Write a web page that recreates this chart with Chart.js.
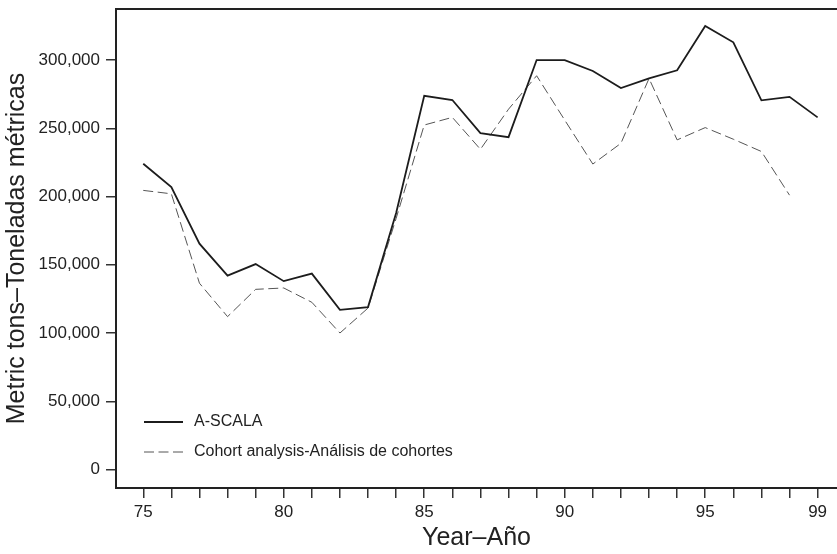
<!DOCTYPE html>
<html>
<head>
<meta charset="utf-8">
<script src="https://cdn.jsdelivr.net/npm/chart.js@4/dist/chart.umd.min.js"></script>
<style>
    html, body { margin: 0; padding: 0; background: #fff; }
    #wrap { width: 837px; height: 554px; position: relative; }
</style>
</head>
<body>
<div id="wrap"><canvas id="chart"></canvas></div>
<script>
// Chart data
const years = [75, 76, 77, 78, 79, 80, 81, 82, 83, 84, 85, 86, 87, 88, 89, 90, 91, 92, 93, 94, 95, 96, 97, 98, 99];
const aScala = [224000, 207000, 165500, 142000, 150500, 138000, 143500, 117000, 119000, 188000, 273800, 270700,
    246500, 243500, 300000, 300000, 292000, 279500, 286500, 292500, 325000, 313000, 270500, 273000, 258000];
const cohort = [204500, 202000, 136500, 112000, 132000, 133000, 122500, 100000, 118300, 184000, 252400, 258000,
    234600, 264000, 288500, 256000, 223800, 239000, 286500, 241500, 250500, 242000, 233000, 201000];
const xTickLabels = [75, 80, 85, 90, 95, 99];
const yTicks = [0, 50000, 100000, 150000, 200000, 250000, 300000];
const seriesNames = ['A-SCALA', 'Cohort analysis-Análisis de cohortes'];

const toPoints = (vals) => vals.map((v, i) => ({ x: years[i], y: v }));

const FONT = "'Liberation Sans', Arial, Helvetica, sans-serif";
const INK = '#222';

// Legend drawn inside the plot, bottom-left
const insideLegend = {
    id: 'insideLegend',
    afterDraw(chart) {
        const { ctx, chartArea } = chart;
        const offsets = [66, 36];
        ctx.save();
        chart.data.datasets.forEach((ds, i) => {
            const y = chartArea.bottom - offsets[i];
            const x0 = chartArea.left + 28;
            ctx.beginPath();
            ctx.setLineDash(ds.borderDash || []);
            ctx.strokeStyle = ds.borderColor;
            ctx.lineWidth = ds.borderWidth;
            ctx.moveTo(x0, y);
            ctx.lineTo(x0 + 39, y);
            ctx.stroke();
            ctx.setLineDash([]);
            ctx.fillStyle = INK;
            ctx.font = `16px ${FONT}`;
            ctx.textBaseline = 'middle';
            ctx.fillText(ds.label, x0 + 50, y);
        });
        ctx.restore();
    }
};

new Chart(document.getElementById('chart').getContext('2d'), {
    type: 'line',
    data: {
        datasets: [{
            label: seriesNames[0],
            data: toPoints(aScala),
            borderColor: '#1c1c1c',
            borderWidth: 1.8,
            pointRadius: 0,
            tension: 0
        }, {
            label: seriesNames[1],
            data: toPoints(cohort),
            borderColor: '#555',
            borderWidth: 1,
            borderDash: [10, 4.5],
            pointRadius: 0,
            tension: 0
        }]
    },
    options: {
        responsive: true,
        maintainAspectRatio: false,
        animation: false,
        layout: { padding: { top: 9, right: 0, left: 0, bottom: 0 } },
        plugins: {
            legend: { display: false },
            tooltip: { enabled: false }
        },
        scales: {
            x: {
                type: 'linear',
                min: 74.03,
                max: 99.69,
                afterBuildTicks: (scale) => { scale.ticks = years.map(v => ({ value: v })); },
                afterFit: (scale) => { scale.height = 66; },
                grid: { drawOnChartArea: false, drawTicks: true, tickLength: 10, color: '#333', lineWidth: 1.5 },
                border: { display: true, color: INK, width: 2 },
                ticks: {
                    autoSkip: false,
                    maxRotation: 0,
                    padding: 4,
                    color: INK,
                    font: { family: FONT, size: 17 },
                    callback: (v) => xTickLabels.includes(v) ? String(v) : ''
                },
                title: {
                    display: true,
                    text: 'Year–Año',
                    color: INK,
                    font: { family: FONT, size: 25 },
                    padding: { top: 1, bottom: 1 }
                }
            },
            xTop: {
                type: 'linear',
                position: 'top',
                axis: 'x',
                afterFit: (scale) => { scale.height = 0; },
                grid: { display: false, drawTicks: false },
                ticks: { display: false },
                border: { display: true, color: INK, width: 2 }
            },
            y: {
                min: -13550,
                max: 337400,
                afterBuildTicks: (scale) => { scale.ticks = yTicks.map(v => ({ value: v })); },
                afterFit: (scale) => {
                    scale.width = 116;
                    // tick labels sit well inside the axis range, no edge padding needed
                    scale.paddingTop = 0;
                    scale.paddingBottom = 0;
                },
                grid: { drawOnChartArea: false, drawTicks: true, tickLength: 10, color: '#333', lineWidth: 1.5 },
                border: { display: true, color: INK, width: 2 },
                ticks: {
                    padding: 6,
                    color: INK,
                    font: { family: FONT, size: 17 },
                    callback: (v) => v.toLocaleString('en-US')
                },
                title: {
                    display: true,
                    text: 'Metric tons–Toneladas métricas',
                    color: INK,
                    font: { family: FONT, size: 25 },
                    padding: { top: 2, bottom: 0 }
                }
            }
        }
    },
    plugins: [insideLegend]
});
</script>
</body>
</html>
